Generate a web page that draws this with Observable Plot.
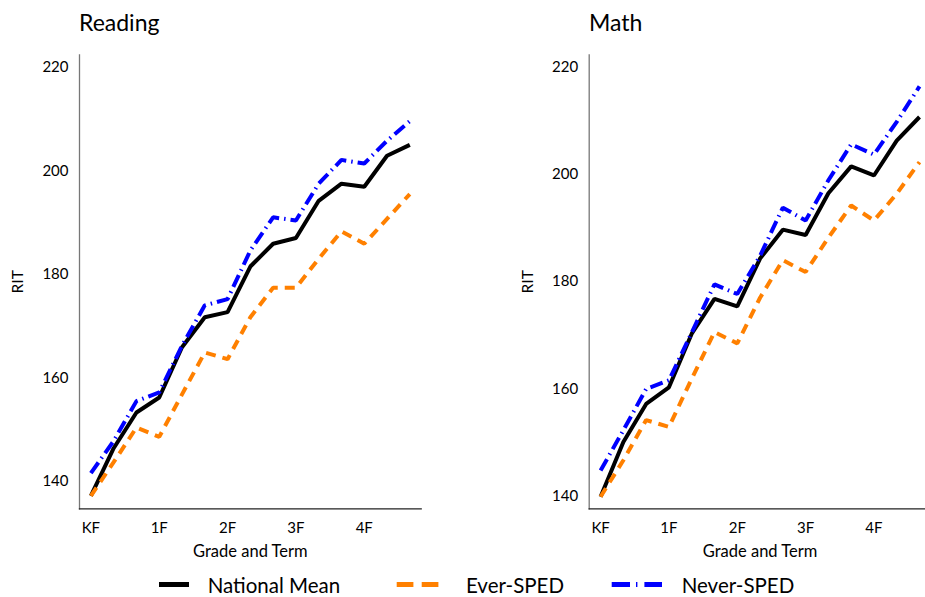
<!DOCTYPE html>
<html><head><meta charset="utf-8">
<script src="https://cdn.jsdelivr.net/npm/d3@7"></script>
<script src="https://cdn.jsdelivr.net/npm/@observablehq/plot@0.6"></script>
<style>
html,body{margin:0;padding:0;background:#fff;}
body{width:925px;height:597px;overflow:hidden;position:relative;font-family:Lato, sans-serif;color:#000;}
.title{position:absolute;font-size:23px;line-height:1;white-space:nowrap;}
.plotbox{position:absolute;top:40px;}
.plotbox svg{max-width:none !important;overflow:visible;}
.leg{position:absolute;font-size:20.5px;line-height:20px;white-space:nowrap;}
.sw{position:absolute;}
</style></head><body>
<div class="title" style="left:79px;top:11px;">Reading</div>
<div class="title" style="left:589px;top:11px;">Math</div>
<div id="reading" class="plotbox" style="left:0px;"></div>
<div id="math" class="plotbox" style="left:460px;"></div>
<svg class="sw" style="left:0;top:574px;" width="925" height="20">
  <line x1="159" x2="189" y1="10.5" y2="10.5" stroke="#000" stroke-width="5"/>
  <line x1="396.7" x2="439" y1="10.5" y2="10.5" stroke="#FF8000" stroke-width="5" stroke-dasharray="16.7,8.3"/>
  <line x1="611.7" x2="662" y1="10.5" y2="10.5" stroke="#0000FF" stroke-width="5" stroke-dasharray="18.3,6,1.4,7"/>
</svg>
<div class="leg" style="left:207.7px;top:574.5px;">National Mean</div>
<div class="leg" style="left:466px;top:574.5px;">Ever-SPED</div>
<div class="leg" style="left:681.7px;top:574.5px;">Never-SPED</div>
<script>
const terms = ["KF","KW","KS","1F","1W","1S","2F","2W","2S","3F","3W","3S","4F","4W","4S"];
const tickTerms = ["KF","1F","2F","3F","4F"];
const yTicks = [140,160,180,200,220];
const seriesNames = ["National Mean","Ever-SPED","Never-SPED"];

const readingNational = [137.2,146.4,153.3,156.2,165.9,171.7,172.7,181.5,185.9,187.0,194.2,197.5,196.9,202.9,205.0];
const readingEver     = [137.2,143.7,150.4,148.6,156.8,164.9,163.6,171.7,177.4,177.4,183.0,188.3,185.9,190.7,195.5];
const readingNever    = [141.6,147.8,155.5,157.2,166.2,174.0,175.2,184.6,191.0,190.4,197.5,202.1,201.4,205.8,209.6];

const mathNational = [139.9,150.1,157.2,160.3,170.3,176.8,175.4,184.3,189.7,188.7,196.5,201.5,199.8,206.3,210.7];
const mathEver     = [139.9,146.7,154.2,152.9,161.9,170.6,168.5,177.0,184.0,181.8,188.2,194.2,191.4,196.4,202.3];
const mathNever    = [144.8,152.3,160.0,161.6,170.5,179.5,177.7,184.8,193.8,191.4,198.9,205.6,203.7,209.8,216.4];

const styles = {
  "National Mean": {stroke:"#000000", strokeWidth:4},
  "Ever-SPED": {stroke:"#FF8000", strokeWidth:4, strokeDasharray:"10,7"},
  "Never-SPED": {stroke:"#0000FF", strokeWidth:4, strokeDasharray:"13,5,1.5,5"}
};

function rows(arr){ return terms.map((t,i)=>({term:t, value:arr[i]})); }

function panel(series, yDomain, width, marginLeft, marginRight){
  return Plot.plot({
    width, height:530, marginLeft, marginRight, marginTop:14.3, marginBottom:61.7,
    x:{type:"point", domain:terms, padding:0.5, round:false},
    y:{domain:yDomain},
    style:{fontFamily:"Lato, sans-serif", fontSize:"15px", color:"#000", background:"transparent", overflow:"visible"},
    marks:[
      Plot.frame({anchor:"left", stroke:"#777", strokeWidth:1.3}),
      Plot.frame({anchor:"bottom", stroke:"#222", strokeWidth:1.3}),
      Plot.axisX({ticks:tickTerms, tickSize:0, tickPadding:14, label:null, fontSize:15}),
      Plot.axisY({ticks:yTicks, tickSize:0, tickPadding:11, label:null, fontSize:15}),
      Plot.text(["RIT"], {frameAnchor:"left", dx:-61, rotate:-90, textAnchor:"middle", lineAnchor:"middle", fontSize:15.5}),
      Plot.text(["Grade and Term"], {frameAnchor:"bottom", dy:43.4, textAnchor:"middle", lineAnchor:"middle", fontSize:16.5}),
      ...seriesNames.map((name,k)=>Plot.line(rows(series[k]), {x:"term", y:"value", ...styles[name], strokeLinecap:"butt", strokeLinejoin:"miter"}))
    ]
  });
}

document.getElementById("reading").appendChild(panel([readingNational, readingEver, readingNever], [134.7,222.4], 460, 79, 39.3));
document.getElementById("math").appendChild(panel([mathNational, mathEver, mathNever], [137.65,222.3], 475, 128.7, 4.6));
</script>
</body></html>
